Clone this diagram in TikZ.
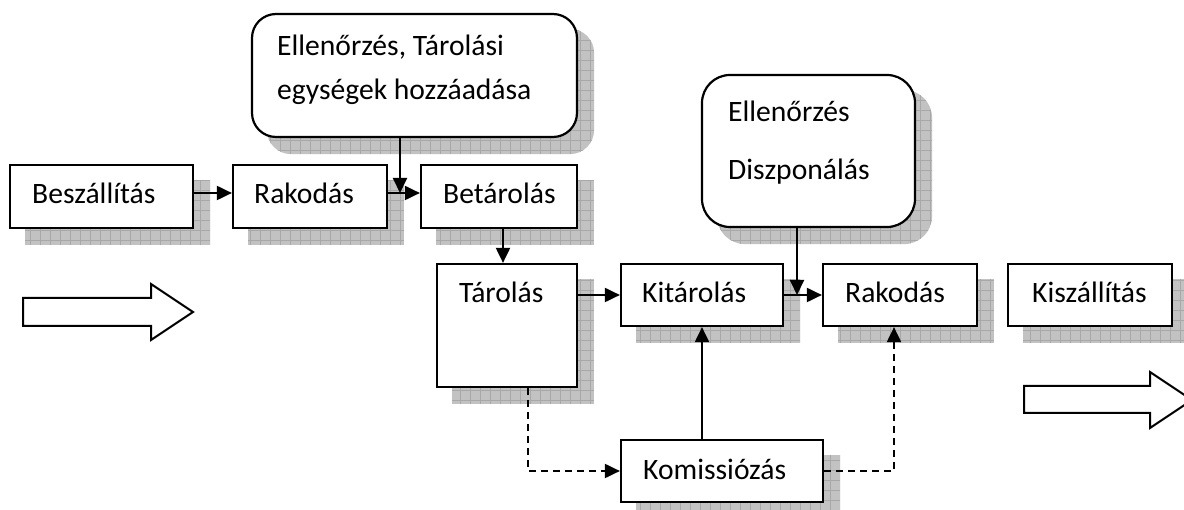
\documentclass[tikz,border=0pt]{standalone}
\usepackage{fontspec}
\setmainfont{Carlito}
\usetikzlibrary{arrows.meta,calc,backgrounds}
\newcommand\shadowof[2]{%
  \begin{scope}[on background layer]
    \path[shfill, rounded corners=#2] ($(#1.north west)+(16pt,-16pt)$) rectangle ($(#1.south east)+(16pt,-16pt)$);
    \begin{scope}
      \clip[rounded corners=#2] ($(#1.north west)+(16pt,-16pt)$) rectangle ($(#1.south east)+(16pt,-16pt)$);
      \draw[shgrid, step=10pt] ($(#1.north west)+(16pt,-16pt)$) grid ($(#1.south east)+(16pt,-16pt)$);
    \end{scope}
  \end{scope}}
\begin{document}
\begin{tikzpicture}[x=1pt,y=-1pt,
  box/.style={draw, line width=2.2pt, fill=white, inner sep=0pt},
  rbox/.style={box, rounded corners=24pt},
  txt/.style={anchor=base west, inner sep=0pt, font=\fontsize{29.6}{36}\selectfont},
  arr/.style={line width=2pt, -{Triangle[length=15pt,width=14pt]}},
  darr/.style={arr, dash pattern=on 7pt off 5pt},
  hollow/.style={draw, line width=2pt, fill=white, line join=miter},
  shfill/.style={fill=gray!48},
  shgrid/.style={draw=gray!68, line width=0.5pt},
]
\clip (0,0) rectangle (1184,510);

% boxes
\node[box, minimum width=183pt, minimum height=63pt] (besz) at (101.5,196.5) {};
\node[box, minimum width=154pt, minimum height=63pt] (rak1) at (310,196.5) {};
\node[box, minimum width=156pt, minimum height=63pt] (betar) at (499,196.5) {};
\node[box, minimum width=140pt, minimum height=123pt] (tarol) at (507,325.5) {};
\node[box, minimum width=162pt, minimum height=62pt] (kitar) at (702,295) {};
\node[box, minimum width=154pt, minimum height=62pt] (rak2) at (900,295) {};
\node[box, minimum width=164pt, minimum height=62pt] (kisz) at (1090,295) {};
\node[box, minimum width=202pt, minimum height=62pt] (komis) at (722,471) {};
\node[rbox, minimum width=325pt, minimum height=123pt] (ell1) at (414.5,75.5) {};
\node[rbox, rounded corners=28pt, minimum width=213pt, minimum height=152pt] (ell2) at (808.5,151) {};

% shadows
\shadowof{besz}{0pt}
\shadowof{rak1}{0pt}
\shadowof{betar}{0pt}
\shadowof{tarol}{0pt}
\shadowof{kitar}{0pt}
\shadowof{rak2}{0pt}
\shadowof{kisz}{0pt}
\shadowof{komis}{0pt}
\shadowof{ell1}{24pt}
\shadowof{ell2}{28pt}

% texts
\node[txt] (t-besz) at (32,204) {Beszállítás};
\node[txt] (t-rak1) at (254,204) {Rakodás};
\node[txt] (t-betar) at (443,204) {Betárolás};
\node[txt] (t-tarol) at (459,303) {Tárolás};
\node[txt] (t-kitar) at (642,303) {Kitárolás};
\node[txt] (t-rak2) at (845,303) {Rakodás};
\node[txt] (t-kisz) at (1032,303) {Kiszállítás};
\node[txt] (t-komis) at (643,479) {Komissiózás};
\node[txt] (t-ell1a) at (277,56) {Ellenőrzés, Tárolási};
\node[txt] (t-ell1b) at (277,100) {egységek hozzáadása};
\node[txt] (t-ell2a) at (728,122) {Ellenőrzés};
\node[txt] (t-ell2b) at (728,180) {Diszponálás};

% junctions
\coordinate (j1) at (400,193);
\coordinate (j2) at (797,295);

% connectors
\draw[arr] ([yshift=3.5pt]besz.east) -- ([yshift=3.5pt]rak1.west);
\draw[arr] ([yshift=3.5pt]rak1.east) -- ([yshift=3.5pt]betar.west);
\draw[arr] (ell1.south -| j1) -- (j1);
\draw[arr] ([xshift=4pt]betar.south) -- ([xshift=-4pt]tarol.north);
\draw[arr] (tarol.east |- kitar.west) -- (kitar.west);
\draw[arr] (kitar.east) -- (rak2.west);
\draw[arr] (ell2.south -| j2) -- (j2);
\draw[arr] (komis.north -| kitar.south) -- (kitar.south);
\draw[darr] ([xshift=21pt]tarol.south) |- (komis.west);
\draw[darr] (komis.east) -| ([xshift=-6pt]rak2.south);

% hollow arrows
\draw[hollow] (23,298) -- (151,298) -- (151,284) -- (193,312) -- (151,340) -- (151,326) -- (23,326) -- cycle;
\draw[hollow] (1024,386) -- (1150,386) -- (1150,372) -- (1192,400) -- (1150,428) -- (1150,413) -- (1024,413) -- cycle;
\end{tikzpicture}
\end{document}
